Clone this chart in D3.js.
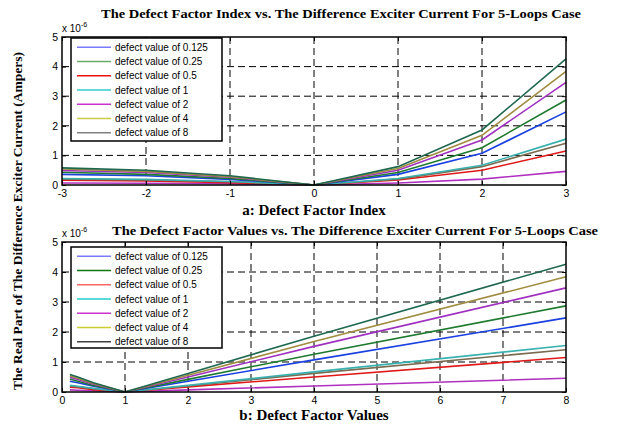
<!DOCTYPE html>
<html><head><meta charset="utf-8">
<script src="https://cdn.jsdelivr.net/npm/d3@7"></script>
<style>body{margin:0;background:#fff}svg{display:block}</style>
</head><body><svg id="c" width="622" height="426"></svg>
<script>
// ---- data ----
const defectValues = [0.125, 0.25, 0.5, 1, 2, 4, 8];
const defectIndex  = [-3, -2, -1, 0, 1, 2, 3];
const indexTicks = [-3, -2, -1, 0, 1, 2, 3];
const valueTicks = [0, 1, 2, 3, 4, 5, 6, 7, 8];
const yTicks = [0, 1, 2, 3, 4, 5];
const legendLabels = ["defect value of 0.125","defect value of 0.25","defect value of 0.5","defect value of 1","defect value of 2","defect value of 4","defect value of 8"];
const legendColorsA = ["#7a7aff","#6aaa6a","#ee1111","#33cccc","#cc33cc","#cccc44","#808080"];
const legendColorsB = ["#7a7aff","#117711","#ff6666","#22cccc","#cc33cc","#cccc33","#404040"];
// curves (x 1e-6 A) at each defect value
const curveTeal    = [0.58, 0.50, 0.31, 0, 0.62, 1.86, 4.26];
const curveOlive   = [0.54, 0.46, 0.28, 0, 0.56, 1.68, 3.84];
const curvePurple  = [0.49, 0.42, 0.26, 0, 0.50, 1.52, 3.47];
const curveGreen   = [0.43, 0.36, 0.22, 0, 0.42, 1.26, 2.87];
const curveBlue    = [0.36, 0.31, 0.19, 0, 0.36, 1.07, 2.47];
const curveCyan    = [0.22, 0.19, 0.12, 0, 0.22, 0.67, 1.55];
const curveBrown   = [0.20, 0.17, 0.11, 0, 0.20, 0.62, 1.41];
const curveRed     = [0.16, 0.14, 0.08, 0, 0.17, 0.50, 1.15];
const curveMagenta = [0.07, 0.06, 0.04, 0, 0.07, 0.20, 0.46];
const curves = [curveMagenta, curveRed, curveBrown, curveCyan, curveBlue, curveGreen, curvePurple, curveOlive, curveTeal];
const curveColors = ["#b030c0","#e01818","#7a6a50","#3ab0b0","#1a40e0","#1e7a2e","#a030c0","#a08c40","#1f6850"];

const svg = d3.select("#c");
const serif = "'Liberation Serif','Times New Roman',serif";
const sans = "'Liberation Sans',Arial,sans-serif";
const fmt = d => String(d);

function panel(opt){
  const x = d3.scaleLinear().domain(opt.xd).range([62, 566]);
  const y = d3.scaleLinear().domain([0,5]).range([opt.y0, opt.y1]);
  const g = svg.append("g");
  // grid
  g.selectAll(".gx").data(opt.xt.slice(1,-1)).join("line")
    .attr("x1",d=>x(d)).attr("x2",d=>x(d)).attr("y1",opt.y1).attr("y2",opt.y0)
    .attr("stroke","#000").attr("stroke-dasharray","7,4").attr("stroke-width",1);
  g.selectAll(".gy").data(yTicks.slice(1,-1)).join("line")
    .attr("x1",62).attr("x2",566).attr("y1",d=>y(d)).attr("y2",d=>y(d))
    .attr("stroke","#000").attr("stroke-dasharray","7,4").attr("stroke-width",1);
  // lines
  const line = d3.line().x((d,i)=>x(opt.xs[i])).y(d=>y(d));
  g.selectAll(".ln").data(curves).join("path")
    .attr("d",d=>line(d)).attr("fill","none")
    .attr("stroke",(d,i)=>curveColors[i]).attr("stroke-width",1.6);
  // axes
  const ax = g.append("g").attr("transform",`translate(0,${opt.y0})`)
    .call(d3.axisBottom(x).tickValues(opt.xt).tickSize(-4).tickPadding(5).tickFormat(fmt));
  const axT = g.append("g").attr("transform",`translate(0,${opt.y1})`)
    .call(d3.axisTop(x).tickValues(opt.xt).tickSize(-4).tickFormat(""));
  const ay = g.append("g").attr("transform",`translate(62,0)`)
    .call(d3.axisLeft(y).tickValues(yTicks).tickSize(-4).tickPadding(4).tickFormat(fmt));
  const ayR = g.append("g").attr("transform",`translate(566,0)`)
    .call(d3.axisRight(y).tickValues(yTicks).tickSize(-4).tickFormat(""));
  [ax,axT,ay,ayR].forEach(a=>{a.select(".domain").remove();
    a.selectAll("line").attr("stroke","#000");
    a.selectAll("text").attr("font-family",sans).attr("font-size",10.5).attr("fill","#000");});
  g.append("rect").attr("x",62).attr("y",opt.y1).attr("width",504).attr("height",opt.y0-opt.y1)
    .attr("fill","none").attr("stroke","#000").attr("stroke-width",1.5);
  // exponent
  const ex = g.append("text").attr("x",62).attr("y",opt.y1-5).attr("font-family",sans).attr("font-size",10).attr("fill","#000");
  ex.append("tspan").text("x 10");
  ex.append("tspan").attr("font-size",7).attr("dy",-5).text("-6");
  // legend
  const lg = g.append("g");
  lg.append("rect").attr("x",71).attr("y",opt.ly).attr("width",151).attr("height",opt.lh)
    .attr("fill","#fff").attr("stroke","#000").attr("stroke-width",1.5);
  legendLabels.forEach((t,i)=>{
    const yy = opt.ly + 9.3 + i*14.25;
    lg.append("line").attr("x1",77).attr("x2",111).attr("y1",yy).attr("y2",yy)
      .attr("stroke",opt.lc[i]).attr("stroke-width",1.5);
    lg.append("text").attr("x",115).attr("y",yy).attr("dy","0.35em")
      .attr("font-family",sans).attr("font-size",10).attr("fill","#000").text(t);
  });
  // title
  svg.append("text").attr("x",opt.tx).attr("y",opt.ty).attr("text-anchor","middle")
    .attr("font-family",serif).attr("font-weight","bold").attr("font-size",13).attr("fill","#000")
    .attr("textLength",opt.tw).attr("lengthAdjust","spacingAndGlyphs").text(opt.title);
  svg.append("text").attr("x",314).attr("y",opt.xly).attr("text-anchor","middle")
    .attr("font-family",serif).attr("font-weight","bold").attr("font-size",15).attr("fill","#000")
    .text(opt.xlabel);
}

panel({xd:[-3,3], xt:indexTicks, xs:defectIndex, y0:185, y1:37, ly:38, lh:103, lc:legendColorsA,
  title:"The Defect Factor Index vs. The Difference Exciter Current For 5-Loops Case", tx:341, ty:18, tw:480,
  xlabel:"a: Defect Factor Index", xly:215});
panel({xd:[0,8], xt:valueTicks, xs:defectValues, y0:392, y1:242, ly:247, lh:101, lc:legendColorsB,
  title:"The Defect Factor Values vs. The Difference Exciter Current For 5-Loops Case", tx:355, ty:235, tw:486,
  xlabel:"b: Defect Factor Values", xly:420});

svg.append("text").attr("transform","translate(22,221) rotate(-90)").attr("text-anchor","middle")
  .attr("font-family",serif).attr("font-weight","bold").attr("font-size",13.5).attr("fill","#000")
  .text("The Real Part of The Difference Exciter Current (Ampers)");
</script></body></html>
